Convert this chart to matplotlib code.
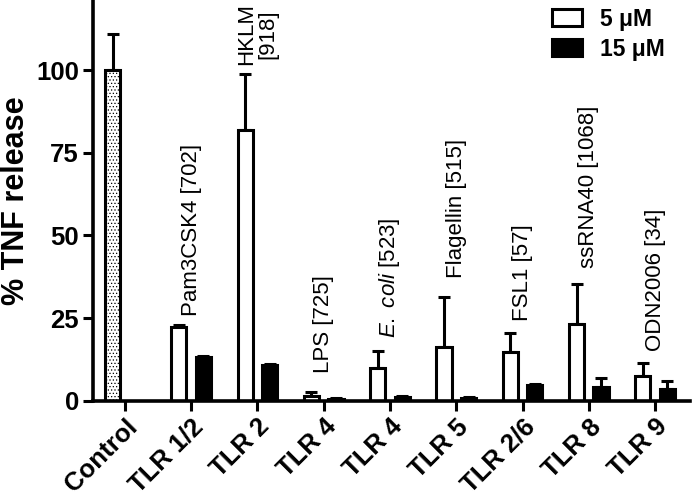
import numpy as np
import matplotlib
matplotlib.use('Agg')
import matplotlib.pyplot as plt
from matplotlib.patches import Patch

plt.rcParams['font.family'] = ['Liberation Sans', 'DejaVu Sans']
plt.rcParams['mathtext.fontset'] = 'custom'
plt.rcParams['mathtext.rm'] = 'Liberation Sans'
plt.rcParams['mathtext.it'] = 'Liberation Sans:italic'
plt.rcParams['hatch.color'] = '#888888'
plt.rcParams['hatch.linewidth'] = 0.5

# datos
categorias = ['Control', 'TLR 1/2', 'TLR 2', 'TLR 4', 'TLR 4', 'TLR 5', 'TLR 2/6', 'TLR 8', 'TLR 9']
valores_5 = [100, 22.4, 81.9, 1.5, 9.8, 16.1, 14.7, 23.2, 7.6]
error_5 = [11.0, 0.5, 17.0, 1.1, 5.2, 15.2, 5.7, 12.1, 3.7]
valores_15 = [np.nan, 13.1, 10.8, 0.5, 1.0, 0.7, 4.6, 4.2, 3.4]
error_15 = [np.nan, 0.4, 0.4, 0.3, 0.5, 0.4, 0.5, 2.7, 2.6]
ligandos = ['Pam3CSK4 [702]', 'HKLM\n[918]', 'LPS [725]', r'$\it{E.\ coli}$ [523]',
            'Flagellin [515]', 'FSL1 [57]', 'ssRNA40 [1068]', 'ODN2006 [34]']
altura_ligandos = [25.5, 101.5, 8.3, 19.0, 37.0, 24.0, 40.0, 15.0]

fig = plt.figure(figsize=(6.93, 4.99), dpi=100)
ax = fig.add_axes([93 / 693, 1 - 400.7 / 499, 1 - 93 / 693 - 0.004, 400.7 / 499])

x = np.arange(len(categorias))
ancho = 0.23
desp = 0.185
lw = 2.2

# control (punteado)
ax.bar(x[0] - desp, valores_5[0], ancho, color='white', edgecolor='black',
       linewidth=lw, hatch='.....', zorder=2)
ax.bar(x[1:] - desp, valores_5[1:], ancho, color='white', edgecolor='black',
       linewidth=lw, zorder=2)
ax.bar(x[1:] + desp, valores_15[1:], ancho, color='black', edgecolor='black',
       linewidth=lw, zorder=2)

cero = np.zeros(len(x))
ax.errorbar(x - desp, valores_5, yerr=[cero, error_5], fmt='none', ecolor='black',
            elinewidth=2.2, capsize=4, capthick=2.2, zorder=1)
ax.errorbar(x + desp, valores_15, yerr=[cero, error_15], fmt='none', ecolor='black',
            elinewidth=2.2, capsize=4, capthick=2.2, zorder=1)

for i, (txt, h) in enumerate(zip(ligandos, altura_ligandos)):
    ax.text(x[i + 1], h, txt, rotation=90, ha='center', va='bottom',
            multialignment='center', fontsize=16, linespacing=1.0)

ax.set_xlim(-0.48, 8.53)
ax.set_ylim(0, 121.2)
ax.set_yticks([0, 25, 50, 75, 100])
ax.set_xticks(x)
ax.set_xticklabels(categorias, rotation=45, ha='right', rotation_mode='anchor',
                   fontsize=18.5, fontweight='bold')
for t in ax.get_yticklabels():
    t.set_fontsize(18.5)
    t.set_fontweight('bold')
ax.tick_params(axis='both', width=2.2, length=7, direction='out', pad=3)
ax.set_ylabel('% TNF release', fontsize=22, fontweight='bold')
ax.yaxis.set_label_coords(-0.103, 0.5)

for lado in ['top', 'right']:
    ax.spines[lado].set_visible(False)
for lado in ['left', 'bottom']:
    ax.spines[lado].set_linewidth(2.6)

manejadores = [Patch(facecolor='white', edgecolor='black', linewidth=2.2),
               Patch(facecolor='black', edgecolor='black', linewidth=2.2)]
fig.legend(manejadores, ['5 \u03bcM', '15 \u03bcM'], loc='upper left',
           bbox_to_anchor=(538 / 693, 1.012), frameon=False,
           prop={'size': 16.5, 'weight': 'bold'}, handlelength=1.3, handleheight=0.75,
           handletextpad=0.8, labelspacing=0.3, borderaxespad=0.2)

fig.savefig('out.png', dpi=100)
